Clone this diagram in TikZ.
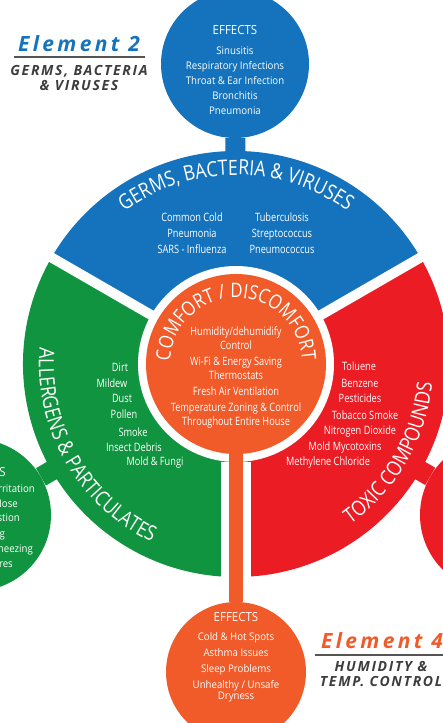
\documentclass[tikz,border=0pt]{standalone}
\usepackage{fontspec}
\setmainfont{Open Sans}
\newfontfamily\arcfamily[FakeStretch=0.84]{Open Sans}
\newfontfamily\listfamily[FakeStretch=0.8]{Open Sans}
\newfontfamily\effectfamily[FakeStretch=0.92]{Open Sans}
\newfontfamily\elemfamily[LetterSpace=12]{Open Sans}
\newfontfamily\elemheadfamily[LetterSpace=16]{Open Sans}
\usetikzlibrary{decorations.text}

\definecolor{germblue}{HTML}{1473BC}
\definecolor{allergreen}{HTML}{10943F}
\definecolor{toxicred}{HTML}{EC1C24}
\definecolor{comfortorange}{HTML}{F15A29}
\definecolor{titlegray}{HTML}{3D3D3D}
\definecolor{rulegray}{HTML}{555555}

\newcommand\arcfont{\arcfamily\fontsize{21}{21}\selectfont}
\newcommand\corefont{\arcfamily\fontsize{20}{20}\selectfont}

\tikzset{
  gap/.style={white, line width=10pt},
  effect/.style={circle, inner sep=0pt, minimum size=#1},
  stem/.style={line width=20pt},
  heading/.style={text=white, inner sep=0pt, font=\effectfamily\fontsize{12.5}{12.5}\selectfont},
  effectlist/.style={text=white, align=center, inner sep=0pt, font=\effectfamily\fontsize{10.5}{15}\selectfont},
  itemlist/.style={text=white, align=center, inner sep=0pt, font=\listfamily\fontsize{11.5}{16}\selectfont},
  arctitle/.style 2 args={decorate, decoration={text along path, text align=center, text={|#1\color{white}|#2}}},
  elemtitle/.style={inner sep=0pt, font=\elemheadfamily\bfseries\itshape\fontsize{21}{21}\selectfont},
  elemsub/.style={align=center, inner sep=0pt, text=titlegray, font=\elemfamily\bfseries\itshape\fontsize{14}{15}\selectfont},
}

\begin{document}
\begin{tikzpicture}[x=1pt, y=-1pt]
  \useasboundingbox (0,0) rectangle (443,723);
  \clip (0,0) rectangle (443,723);
  \coordinate (hub) at (236,364);

  \fill[germblue] (hub) -- ([shift={(-30:213)}]hub) arc[start angle=-30, end angle=-150, radius=213] -- cycle;
  \fill[allergreen] (hub) -- ([shift={(-150:213)}]hub) arc[start angle=-150, end angle=-270, radius=213] -- cycle;
  \fill[toxicred] (hub) -- ([shift={(-270:213)}]hub) arc[start angle=-270, end angle=-390, radius=213] -- cycle;
  \draw[gap] (hub) -- ++(-30:225);
  \draw[gap] (hub) -- ++(-150:225);

  \node[effect=148pt, fill=germblue] (germeff) at (235,64) {};
  \node[effect=152pt, fill=allergreen] (allereff) at (-25,515) {};
  \node[effect=154pt, fill=toxicred] (toxeff) at (497,515) {};
  \node[effect=140pt, fill=comfortorange] (humeff) at (236,672) {};

  \draw[stem, germblue] (germeff) -- (hub);
  \draw[stem, allergreen] (allereff) -- (hub);
  \draw[stem, toxicred] (toxeff) -- (hub);

  \node[effect=196pt, fill=white] (corering) at (hub) {};
  \draw[white, line width=30pt] (corering) -- (humeff);
  \draw[comfortorange, line width=14pt] (corering.center) -- (humeff);
  \node[effect=180pt, fill=comfortorange] (comfort) at (hub) {};

  \path[arctitle={\arcfont}{GERMS, BACTERIA {\&} VIRUSES}]
    ([shift={(-175:189)}]hub) arc[start angle=-175, end angle=-5, radius=189];
  \path[arctitle={\arcfont}{ALLERGENS {\&} PARTICULATES}]
    ([shift={(-150:197)}]hub) arc[start angle=-150, end angle=-270, radius=197];
  \path[arctitle={\arcfont}{TOXIC COMPOUNDS}]
    ([shift={(-270:197)}]hub) arc[start angle=-270, end angle=-390, radius=197];
  \path[arctitle={\corefont}{COMFORT / DISCOMFORT}]
    ([shift={(-200:66)}]hub) arc[start angle=-200, end angle=20, radius=66];

  \node[itemlist] (germlist-a) at (192,233) {Common Cold\\Pneumonia\\SARS - Influenza};
  \node[itemlist] (germlist-b) at (282,233) {Tuberculosis\\Streptococcus\\Pneumococcus};
  \node[itemlist, font=\listfamily\fontsize{11.5}{14}\selectfont] (comfortlist) at (236,377)
    {Humidity/dehumidify\\Control\\[2pt]Wi-Fi \& Energy Saving\\Thermostats\\[2pt]Fresh Air Ventilation\\[2pt]Temperature Zoning \& Control\\Throughout Entire House};
  \foreach \px/\py/\word [count=\i] in {120/367/Dirt, 112/383/Mildew, 122/398/Dust, 124/414/Pollen,
      133/432/Smoke, 134/447/Insect Debris, 155/463/Mold \& Fungi}
    \node[itemlist] (allerlist-\i) at (\px,\py) {\word};
  \foreach \px/\py/\word [count=\i] in {359/366/Toluene, 360/383/Benzene, 360/398/Pesticides,
      365/415/Tobacco Smoke, 360/432/Nitrogen Dioxide, 345/448/Mold Mycotoxins, 328/463/Methylene Chloride}
    \node[itemlist] (toxlist-\i) at (\px,\py) {\word};

  \node[heading] (germhead) at (235,30) {EFFECTS};
  \node[effectlist] (germlist) at (235,81) {Sinusitis\\Respiratory Infections\\Throat \& Ear Infection\\Bronchitis\\Pneumonia};
  \node[heading] (humhead) at (236,617) {EFFECTS};
  \node[effectlist, font=\effectfamily\fontsize{10.5}{11}\selectfont] (humlist) at (236,667)
    {Cold \& Hot Spots\\[5pt]Asthma Issues\\[5pt]Sleep Problems\\[5pt]Unhealthy / Unsafe\\Dryness};
  \node[heading, anchor=east] (allerhead) at (6,472) {EFFECTS};
  \foreach \px/\py/\word [count=\i] in {35/490/Skin \& Eye Irritation, 18/505/Runny Nose, 20/519/Congestion,
      5/535/Coughing, 33/550/Constant Sneezing, 13/565/Allergy Flares}
    \node[effectlist, anchor=east] (allerlist-eff-\i) at (\px,\py) {\word};

  \node[elemtitle, text=germblue] (elemtwo) at (79,44) {Element 2};
  \draw[rulegray, line width=2pt] (14,57) -- (145,57);
  \node[elemsub] (elemtwosub) at (79,78) {GERMS, BACTERIA\\\& VIRUSES};
  \node[elemtitle, text=comfortorange] (elemfour) at (382,641) {Element 4};
  \draw[rulegray, line width=2pt] (315,655) -- (450,655);
  \node[elemsub] (elemfoursub) at (381,674) {HUMIDITY \&\\TEMP. CONTROL};
\end{tikzpicture}
\end{document}
